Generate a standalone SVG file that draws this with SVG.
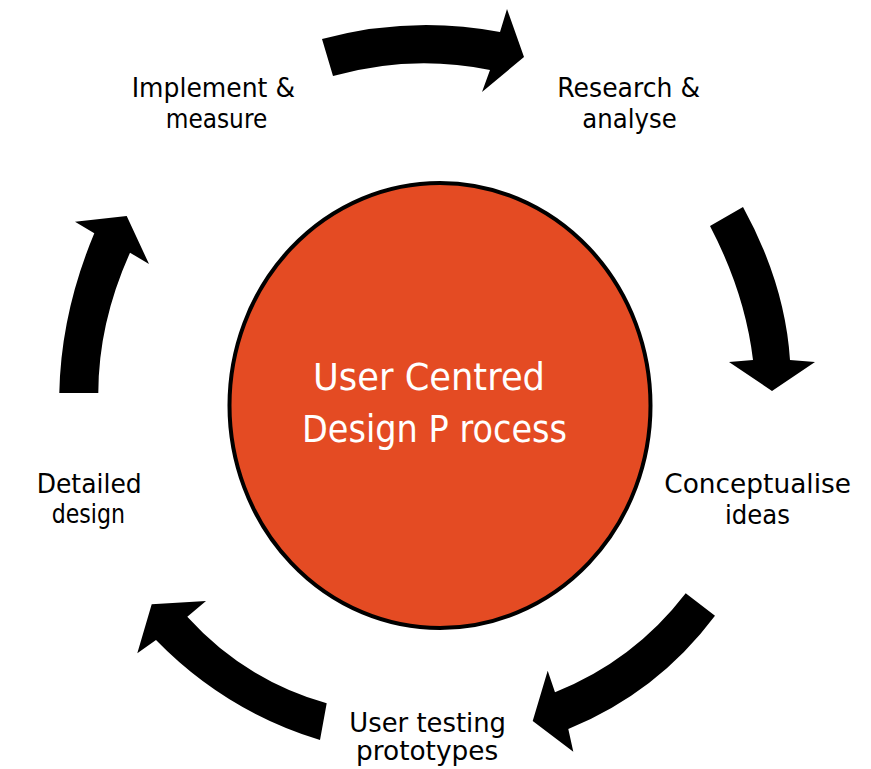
<svg xmlns="http://www.w3.org/2000/svg" width="871" height="769" viewBox="0 0 871 769">
<style>
.lbl{font-family:"DejaVu Sans","Liberation Sans",sans-serif;font-size:26.5px;fill:#000}
.ctr{font-family:"DejaVu Sans","Liberation Sans",sans-serif;font-size:37px;fill:#fff}
.arr{fill:#000;stroke:none}
</style>
<rect width="871" height="769" fill="#fff"/>
<g id="connectors">
<path class="arr" d="M322,39 Q411,15 500,32 L507,9 L524,57 L482,92 L490,70 Q411.5,54 333,76 Z"/>
<path class="arr" d="M743,207 Q785,283.5 790,360 L815,362 L772,391 L729,362 L753,360 Q745,293 710,226 Z"/>
<path class="arr" d="M715,615.7 A347,347 0 0 1 568.3,729 L573.3,751.7 L532.7,721 L547.7,670.7 L555,692.3 A310,310 0 0 0 685.7,593.3 Z"/>
<path class="arr" d="M326.7,703.3 Q244.6,680 187.3,616.7 L206,601 L151.7,604.3 L137.3,653.3 L156,640 Q225,711 320,740 Z"/>
<path class="arr" d="M98.3,393 Q98.4,323 130,252.7 L149,264 L126.7,216 L75,221.7 L94.3,233.3 Q60.9,313 59.3,393 Z"/>
</g>
<g id="center">
<ellipse cx="440" cy="405.5" rx="210.5" ry="222.5" fill="#E44B23" stroke="#000" stroke-width="4"/>
<text class="ctr" x="313" y="390" textLength="232" lengthAdjust="spacingAndGlyphs">User Centred</text>
<text class="ctr" x="302" y="442" textLength="265" lengthAdjust="spacingAndGlyphs">Design P rocess</text>
</g>
<g id="research">
<text class="lbl" x="557.3" y="96.7" textLength="142.7" lengthAdjust="spacingAndGlyphs">Research &amp;</text>
<text class="lbl" x="582.3" y="128" textLength="94.4" lengthAdjust="spacingAndGlyphs">analyse</text>
</g>
<g id="conceptualise">
<text class="lbl" x="664.3" y="493" textLength="186.7" lengthAdjust="spacingAndGlyphs">Conceptualise</text>
<text class="lbl" x="725" y="524" textLength="65" lengthAdjust="spacingAndGlyphs">ideas</text>
</g>
<g id="testing">
<text class="lbl" x="349.3" y="731.7" textLength="156.7" lengthAdjust="spacingAndGlyphs">User testing</text>
<text class="lbl" x="356" y="760" textLength="142.3" lengthAdjust="spacingAndGlyphs">prototypes</text>
</g>
<g id="detailed">
<text class="lbl" x="36.7" y="492.5" textLength="105" lengthAdjust="spacingAndGlyphs">Detailed</text>
<text class="lbl" x="51.7" y="523" textLength="73.3" lengthAdjust="spacingAndGlyphs">design</text>
</g>
<g id="implement">
<text class="lbl" x="131.7" y="96.7" textLength="163.3" lengthAdjust="spacingAndGlyphs">Implement &amp;</text>
<text class="lbl" x="165.7" y="128" textLength="101.6" lengthAdjust="spacingAndGlyphs">measure</text>
</g>
</svg>
